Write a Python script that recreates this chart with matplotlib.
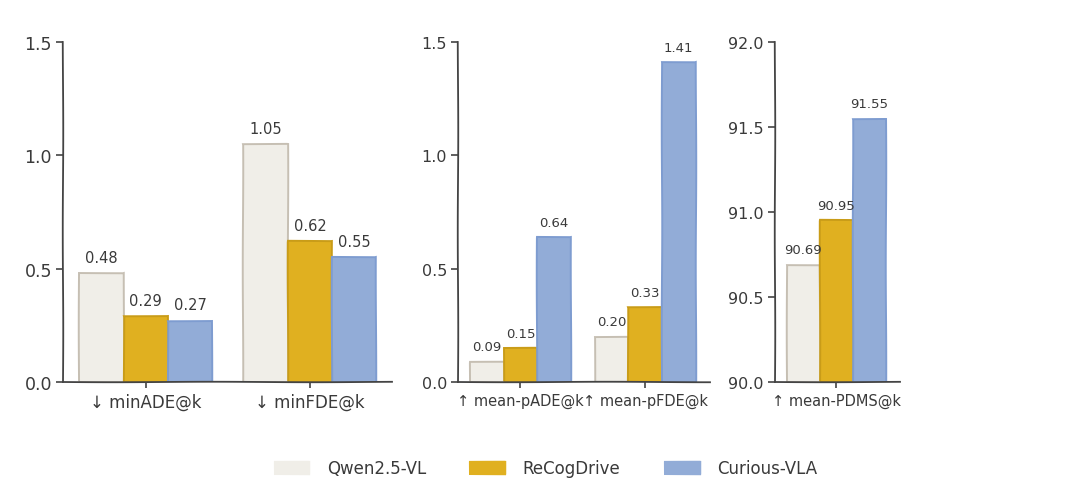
import matplotlib.pyplot as plt
import numpy as np

# data
models = ['Qwen2.5-VL', 'ReCogDrive', 'Curious-VLA']
min_metrics = ['↓ minADE@k', '↓ minFDE@k']
min_vals = {
    'Qwen2.5-VL': [0.48, 1.05],
    'ReCogDrive': [0.29, 0.62],
    'Curious-VLA': [0.27, 0.55],
}
mean_metrics = ['↑ mean-pADE@k', '↑ mean-pFDE@k']
mean_vals = {
    'Qwen2.5-VL': [0.09, 0.20],
    'ReCogDrive': [0.15, 0.33],
    'Curious-VLA': [0.64, 1.41],
}
pdms_metrics = ['↑ mean-PDMS@k']
pdms_vals = {
    'Qwen2.5-VL': [90.69],
    'ReCogDrive': [90.95],
    'Curious-VLA': [91.55],
}

face = {'Qwen2.5-VL': '#F0EEE8', 'ReCogDrive': '#E0B020', 'Curious-VLA': '#92ACD7'}
edge = {'Qwen2.5-VL': '#C6BFB3', 'ReCogDrive': '#C99C18', 'Curious-VLA': '#7E9CD0'}

plt.rcParams['font.family'] = ['DejaVu Sans']
plt.rcParams['path.sketch'] = (0.25, 200, 1)
txt = '#3a3a3a'

fig = plt.figure(figsize=(10.8, 4.89), dpi=100)
fig.patch.set_facecolor('white')

bottom, height = 1 - 383 / 489, 340 / 489
ax1 = fig.add_axes([63 / 1080, bottom, 329 / 1080, height])
ax2 = fig.add_axes([458 / 1080, bottom, 252 / 1080, height])
ax3 = fig.add_axes([775 / 1080, bottom, 125 / 1080, height])

w = 0.27


def draw(ax, metrics, vals, ylim, base, xlim, ticks, xfs, yfs, lfs):
    x = np.arange(len(metrics))
    for i, m in enumerate(models):
        v = np.array(vals[m])
        bars = ax.bar(x + (i - 1) * w, v - base, w, bottom=base, color=face[m],
                      edgecolor=edge[m], linewidth=1.4, label=m)
        for b, val in zip(bars, v):
            ax.annotate(f'{val:.2f}', (b.get_x() + b.get_width() / 2, val),
                        xytext=(0, 6), textcoords='offset points',
                        ha='center', va='bottom', fontsize=lfs, color=txt)
    ax.set_xticks(x)
    ax.set_xticklabels(metrics, fontsize=xfs, color=txt)
    ax.set_xlim(*xlim)
    ax.set_ylim(*ylim)
    ax.set_yticks(ticks)
    ax.set_yticklabels([f'{t:.1f}' for t in ticks], fontsize=yfs, color=txt)
    for s in ['top', 'right']:
        ax.spines[s].set_visible(False)
    for s in ['left', 'bottom']:
        ax.spines[s].set_color('#444444')
        ax.spines[s].set_linewidth(1.3)
    ax.tick_params(axis='y', length=5, width=1.2, color='#444444', pad=3)
    ax.tick_params(axis='x', length=4, width=1.2, color='#444444', pad=4)
    ax.set_facecolor('none')


draw(ax1, min_metrics, min_vals, (0, 1.5), 0, (-0.505, 1.5),
     [0.0, 0.5, 1.0, 1.5], 12, 12.5, 10.5)
draw(ax2, mean_metrics, mean_vals, (0, 1.5), 0, (-0.5, 1.52),
     [0.0, 0.5, 1.0, 1.5], 10.5, 11.5, 9.5)
draw(ax3, pdms_metrics, pdms_vals, (90, 92), 90, (-0.5, 0.52),
     [90.0, 90.5, 91.0, 91.5, 92.0], 10.5, 11.5, 9.5)

handles, labels = ax1.get_legend_handles_labels()
leg = fig.legend(handles, labels, loc='center', bbox_to_anchor=(0.505, 0.04), ncol=3,
                 frameon=False, fontsize=12, handlelength=2.2, handleheight=0.9,
                 columnspacing=2.6, handletextpad=1.0)
for h in leg.legend_handles:
    h.set_edgecolor('none')
for t in leg.get_texts():
    t.set_color(txt)

fig.savefig('out.png', dpi=100)
